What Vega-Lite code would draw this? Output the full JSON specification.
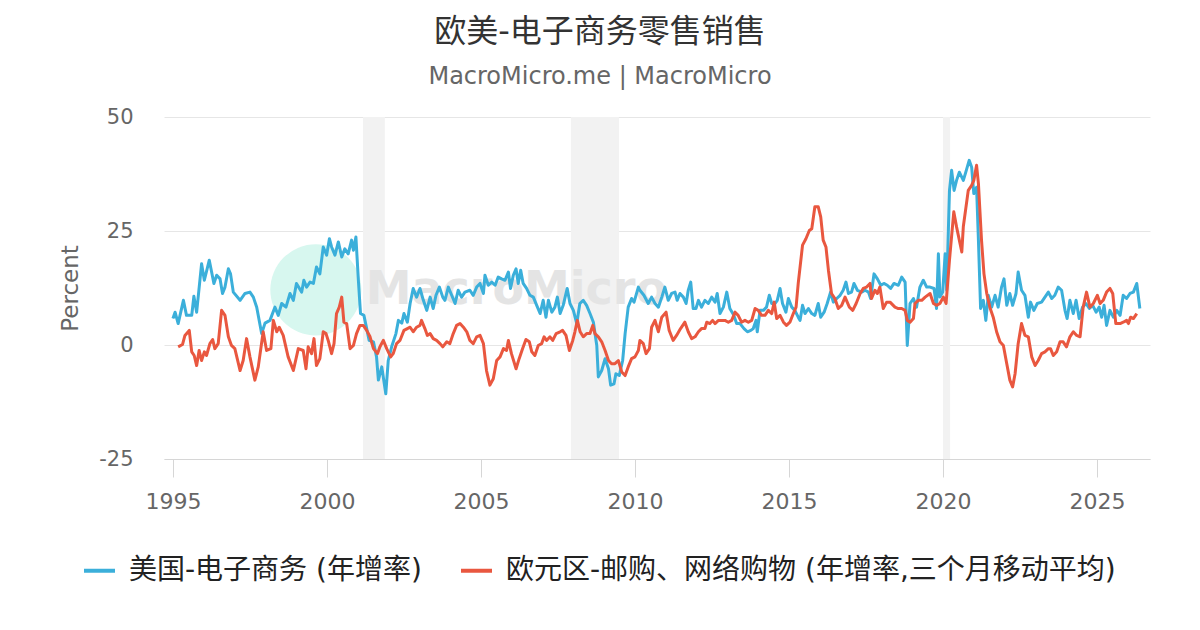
{
"$schema": "https://vega.github.io/schema/vega-lite/v6.json",
"width": 986, "height": 342,
"autosize": {"type": "none"},
"padding": {"left": 164, "top": 117, "right": 50, "bottom": 171},
"background": "white",
"config": {
 "font": "DejaVu Sans",
 "view": {"stroke": null},
 "axisX": {"labelFontSize": 22, "labelColor": "#666666", "labelFont": "DejaVu Sans", "domainColor": "#d6d6d6", "tickColor": "#d6d6d6", "tickSize": 18, "grid": false, "labelPadding": 14, "labelFlush": false},
 "axisY": {"labelFontSize": 21, "labelColor": "#666666", "labelFont": "DejaVu Sans", "grid": true, "gridColor": "#e6e6e6", "domain": false, "ticks": false, "tickSize": 0, "labelPadding": 31, "titleFontSize": 23, "titleColor": "#666666", "titleFontWeight": "normal", "titleFont": "DejaVu Sans", "titlePadding": 16},
 "legend": {"orient": "none", "legendX": -82, "legendY": 436, "direction": "horizontal", "symbolType": "stroke", "symbolStrokeWidth": 4, "symbolSize": 961, "labelFontSize": 28, "labelColor": "#222222", "labelFont": "DejaVu Sans, Noto Sans CJK SC", "columnPadding": 31, "labelOffset": 12, "padding": 0, "labelLimit": 1000}
},
"title": {"text": "欧美-电子商务零售销售", "subtitle": "MacroMicro.me | MacroMicro", "anchor": "middle", "frame": "group", "dx": -57, "offset": 16, "fontSize": 32, "font": "DejaVu Sans, Noto Sans CJK SC", "fontWeight": "normal", "color": "#333333", "subtitleFontSize": 24, "subtitleColor": "#666666", "subtitleFont": "DejaVu Sans", "subtitlePadding": 16},
"datasets": {
 "rec": [{"start": 2001.17, "end": 2001.88}, {"start": 2007.92, "end": 2009.48}, {"start": 2020.0, "end": 2020.23}],
 "wm": [{"date": 1999.64, "value": 12.1, "label": "MacroMicro", "tx": 2006.15}],
 "us": [{"date":1995.00,"value":5.8},{"date":1995.07,"value":7.2},{"date":1995.17,"value":4.7},{"date":1995.34,"value":9.8},{"date":1995.44,"value":6.5},{"date":1995.61,"value":6.5},{"date":1995.68,"value":10.7},{"date":1995.77,"value":7.2},{"date":1995.93,"value":17.8},{"date":1996.02,"value":14.2},{"date":1996.18,"value":18.6},{"date":1996.33,"value":13.5},{"date":1996.42,"value":15.3},{"date":1996.53,"value":14.5},{"date":1996.61,"value":11.3},{"date":1996.69,"value":12.7},{"date":1996.80,"value":16.7},{"date":1996.87,"value":15.6},{"date":1996.96,"value":11.6},{"date":1997.18,"value":9.8},{"date":1997.34,"value":11.3},{"date":1997.50,"value":11.6},{"date":1997.61,"value":10.5},{"date":1997.72,"value":8.3},{"date":1997.88,"value":2.5},{"date":1997.99,"value":4.8},{"date":1998.15,"value":5.4},{"date":1998.31,"value":8.3},{"date":1998.42,"value":6.5},{"date":1998.53,"value":9.1},{"date":1998.67,"value":8.3},{"date":1998.80,"value":11.3},{"date":1998.91,"value":9.8},{"date":1999.01,"value":13.5},{"date":1999.18,"value":11.6},{"date":1999.25,"value":14.2},{"date":1999.34,"value":12.7},{"date":1999.45,"value":13.8},{"date":1999.56,"value":13.5},{"date":1999.66,"value":17.1},{"date":1999.77,"value":15.6},{"date":1999.88,"value":21.5},{"date":1999.99,"value":19.7},{"date":2000.08,"value":23.3},{"date":2000.15,"value":21.5},{"date":2000.26,"value":19.7},{"date":2000.37,"value":22.6},{"date":2000.48,"value":19.3},{"date":2000.58,"value":21.1},{"date":2000.69,"value":20.0},{"date":2000.80,"value":23.0},{"date":2000.86,"value":20.8},{"date":2000.94,"value":23.7},{"date":2001.02,"value":14.2},{"date":2001.09,"value":6.9},{"date":2001.20,"value":6.5},{"date":2001.29,"value":3.6},{"date":2001.37,"value":1.0},{"date":2001.51,"value":0.7},{"date":2001.61,"value":-2.6},{"date":2001.67,"value":-7.7},{"date":2001.78,"value":-4.8},{"date":2001.91,"value":-10.7},{"date":2001.99,"value":-3.4},{"date":2002.10,"value":-0.4},{"date":2002.24,"value":2.5},{"date":2002.32,"value":5.4},{"date":2002.43,"value":4.8},{"date":2002.50,"value":6.9},{"date":2002.61,"value":5.0},{"date":2002.70,"value":9.1},{"date":2002.80,"value":12.4},{"date":2002.91,"value":10.5},{"date":2003.02,"value":12.4},{"date":2003.13,"value":9.8},{"date":2003.24,"value":7.6},{"date":2003.35,"value":10.5},{"date":2003.45,"value":8.0},{"date":2003.54,"value":10.9},{"date":2003.65,"value":12.7},{"date":2003.76,"value":10.5},{"date":2003.83,"value":9.8},{"date":2003.94,"value":12.7},{"date":2004.05,"value":10.9},{"date":2004.16,"value":9.1},{"date":2004.26,"value":12.0},{"date":2004.37,"value":10.5},{"date":2004.48,"value":11.6},{"date":2004.64,"value":12.0},{"date":2004.75,"value":10.9},{"date":2004.86,"value":12.7},{"date":2004.97,"value":13.5},{"date":2005.08,"value":11.3},{"date":2005.13,"value":15.3},{"date":2005.24,"value":13.1},{"date":2005.35,"value":13.8},{"date":2005.46,"value":13.1},{"date":2005.56,"value":14.9},{"date":2005.67,"value":14.5},{"date":2005.78,"value":14.2},{"date":2005.89,"value":16.0},{"date":2005.96,"value":12.4},{"date":2006.05,"value":15.3},{"date":2006.14,"value":16.7},{"date":2006.21,"value":13.5},{"date":2006.29,"value":16.4},{"date":2006.37,"value":13.5},{"date":2006.48,"value":12.4},{"date":2006.59,"value":10.9},{"date":2006.70,"value":10.5},{"date":2006.81,"value":8.7},{"date":2006.92,"value":6.9},{"date":2007.02,"value":9.8},{"date":2007.11,"value":6.1},{"date":2007.19,"value":9.8},{"date":2007.30,"value":7.2},{"date":2007.40,"value":8.3},{"date":2007.48,"value":10.5},{"date":2007.57,"value":6.9},{"date":2007.67,"value":8.7},{"date":2007.80,"value":12.4},{"date":2007.89,"value":9.1},{"date":2008.00,"value":7.6},{"date":2008.11,"value":4.7},{"date":2008.21,"value":9.1},{"date":2008.32,"value":9.8},{"date":2008.43,"value":8.7},{"date":2008.54,"value":6.9},{"date":2008.65,"value":5.0},{"date":2008.76,"value":-0.1},{"date":2008.81,"value":-7.0},{"date":2008.92,"value":-5.6},{"date":2009.03,"value":-3.0},{"date":2009.14,"value":-5.2},{"date":2009.21,"value":-8.8},{"date":2009.32,"value":-8.5},{"date":2009.38,"value":-6.3},{"date":2009.49,"value":-6.7},{"date":2009.60,"value":-3.4},{"date":2009.68,"value":2.5},{"date":2009.78,"value":8.3},{"date":2009.89,"value":10.2},{"date":2009.97,"value":9.4},{"date":2010.11,"value":12.7},{"date":2010.16,"value":12.0},{"date":2010.29,"value":10.9},{"date":2010.43,"value":9.1},{"date":2010.54,"value":10.5},{"date":2010.65,"value":9.1},{"date":2010.76,"value":8.3},{"date":2010.87,"value":10.5},{"date":2010.97,"value":12.7},{"date":2011.08,"value":9.8},{"date":2011.19,"value":11.3},{"date":2011.30,"value":11.6},{"date":2011.37,"value":9.8},{"date":2011.46,"value":11.3},{"date":2011.57,"value":10.5},{"date":2011.66,"value":9.1},{"date":2011.73,"value":12.0},{"date":2011.81,"value":13.8},{"date":2011.89,"value":8.0},{"date":2011.98,"value":8.0},{"date":2012.06,"value":9.8},{"date":2012.16,"value":8.3},{"date":2012.27,"value":9.8},{"date":2012.38,"value":9.1},{"date":2012.49,"value":10.5},{"date":2012.60,"value":9.4},{"date":2012.67,"value":11.3},{"date":2012.76,"value":6.9},{"date":2012.87,"value":8.3},{"date":2012.98,"value":11.6},{"date":2013.08,"value":8.0},{"date":2013.21,"value":6.5},{"date":2013.30,"value":4.7},{"date":2013.41,"value":4.7},{"date":2013.54,"value":3.6},{"date":2013.65,"value":2.9},{"date":2013.76,"value":3.2},{"date":2013.84,"value":3.6},{"date":2013.93,"value":5.4},{"date":2013.97,"value":2.9},{"date":2014.06,"value":7.6},{"date":2014.17,"value":7.6},{"date":2014.27,"value":8.3},{"date":2014.36,"value":10.9},{"date":2014.44,"value":9.1},{"date":2014.55,"value":9.1},{"date":2014.62,"value":9.8},{"date":2014.71,"value":12.4},{"date":2014.79,"value":9.1},{"date":2014.90,"value":7.2},{"date":2014.98,"value":10.2},{"date":2015.09,"value":8.3},{"date":2015.19,"value":7.6},{"date":2015.30,"value":6.1},{"date":2015.36,"value":5.4},{"date":2015.44,"value":8.7},{"date":2015.52,"value":6.9},{"date":2015.63,"value":8.0},{"date":2015.74,"value":6.9},{"date":2015.84,"value":6.5},{"date":2015.95,"value":9.1},{"date":2016.03,"value":6.1},{"date":2016.14,"value":7.2},{"date":2016.24,"value":9.1},{"date":2016.35,"value":11.6},{"date":2016.44,"value":9.4},{"date":2016.55,"value":10.2},{"date":2016.66,"value":10.9},{"date":2016.76,"value":12.0},{"date":2016.85,"value":13.8},{"date":2016.93,"value":11.3},{"date":2017.03,"value":11.6},{"date":2017.11,"value":13.5},{"date":2017.22,"value":12.0},{"date":2017.36,"value":11.6},{"date":2017.47,"value":12.0},{"date":2017.58,"value":11.6},{"date":2017.65,"value":10.2},{"date":2017.76,"value":15.6},{"date":2017.87,"value":14.5},{"date":2017.98,"value":13.1},{"date":2018.08,"value":13.5},{"date":2018.19,"value":13.1},{"date":2018.30,"value":12.4},{"date":2018.41,"value":13.5},{"date":2018.55,"value":13.1},{"date":2018.66,"value":14.9},{"date":2018.77,"value":13.8},{"date":2018.84,"value":-0.1},{"date":2018.93,"value":9.1},{"date":2019.04,"value":10.2},{"date":2019.14,"value":8.3},{"date":2019.25,"value":12.7},{"date":2019.36,"value":14.2},{"date":2019.47,"value":12.7},{"date":2019.58,"value":12.7},{"date":2019.71,"value":12.4},{"date":2019.79,"value":8.0},{"date":2019.85,"value":20.0},{"date":2019.90,"value":10.5},{"date":2019.99,"value":11.6},{"date":2020.07,"value":20.0},{"date":2020.12,"value":12.0},{"date":2020.21,"value":33.9},{"date":2020.28,"value":38.3},{"date":2020.36,"value":33.9},{"date":2020.44,"value":36.1},{"date":2020.53,"value":37.9},{"date":2020.66,"value":36.1},{"date":2020.74,"value":37.9},{"date":2020.85,"value":40.5},{"date":2020.93,"value":39.0},{"date":2021.00,"value":33.2},{"date":2021.09,"value":34.6},{"date":2021.15,"value":23.0},{"date":2021.22,"value":8.0},{"date":2021.31,"value":9.8},{"date":2021.39,"value":5.4},{"date":2021.47,"value":10.9},{"date":2021.58,"value":8.3},{"date":2021.69,"value":10.9},{"date":2021.79,"value":8.3},{"date":2021.90,"value":12.7},{"date":2021.98,"value":14.5},{"date":2022.07,"value":8.7},{"date":2022.17,"value":11.3},{"date":2022.26,"value":8.7},{"date":2022.37,"value":11.3},{"date":2022.44,"value":16.0},{"date":2022.55,"value":12.0},{"date":2022.66,"value":10.9},{"date":2022.77,"value":6.1},{"date":2022.84,"value":9.4},{"date":2022.95,"value":7.6},{"date":2023.06,"value":9.1},{"date":2023.20,"value":9.4},{"date":2023.31,"value":10.5},{"date":2023.42,"value":11.6},{"date":2023.53,"value":10.2},{"date":2023.63,"value":10.9},{"date":2023.74,"value":12.7},{"date":2023.85,"value":12.0},{"date":2023.96,"value":7.6},{"date":2024.03,"value":5.8},{"date":2024.12,"value":9.8},{"date":2024.23,"value":6.9},{"date":2024.32,"value":9.8},{"date":2024.42,"value":5.8},{"date":2024.53,"value":8.3},{"date":2024.64,"value":9.1},{"date":2024.75,"value":8.0},{"date":2024.86,"value":8.7},{"date":2024.97,"value":7.2},{"date":2025.07,"value":8.3},{"date":2025.15,"value":6.1},{"date":2025.23,"value":8.7},{"date":2025.31,"value":4.3},{"date":2025.42,"value":7.6},{"date":2025.53,"value":6.1},{"date":2025.64,"value":7.6},{"date":2025.75,"value":6.5},{"date":2025.85,"value":10.9},{"date":2025.96,"value":10.2},{"date":2026.07,"value":11.3},{"date":2026.18,"value":11.6},{"date":2026.29,"value":13.5},{"date":2026.39,"value":8.0}],
 "eu": [{"date":1995.17,"value":-0.4},{"date":1995.31,"value":0.1},{"date":1995.39,"value":2.1},{"date":1995.53,"value":3.2},{"date":1995.61,"value":-1.5},{"date":1995.69,"value":-2.3},{"date":1995.77,"value":-4.5},{"date":1995.85,"value":-1.2},{"date":1995.93,"value":-3.4},{"date":1996.02,"value":-1.5},{"date":1996.09,"value":-2.3},{"date":1996.20,"value":0.3},{"date":1996.29,"value":1.2},{"date":1996.36,"value":-0.8},{"date":1996.47,"value":0.3},{"date":1996.58,"value":7.6},{"date":1996.69,"value":6.5},{"date":1996.80,"value":1.8},{"date":1996.90,"value":-0.1},{"date":1997.01,"value":-0.8},{"date":1997.18,"value":-5.6},{"date":1997.28,"value":-3.4},{"date":1997.39,"value":1.4},{"date":1997.50,"value":-2.6},{"date":1997.66,"value":-7.7},{"date":1997.77,"value":-4.8},{"date":1997.93,"value":2.9},{"date":1998.04,"value":-1.2},{"date":1998.18,"value":-0.8},{"date":1998.26,"value":5.4},{"date":1998.37,"value":2.9},{"date":1998.45,"value":3.9},{"date":1998.58,"value":2.1},{"date":1998.74,"value":-2.6},{"date":1998.91,"value":-5.6},{"date":1999.07,"value":-0.8},{"date":1999.23,"value":-1.2},{"date":1999.32,"value":-5.2},{"date":1999.39,"value":-0.4},{"date":1999.50,"value":-1.9},{"date":1999.58,"value":1.4},{"date":1999.66,"value":-4.5},{"date":1999.77,"value":-3.0},{"date":1999.88,"value":2.9},{"date":1999.97,"value":2.5},{"date":2000.04,"value":1.0},{"date":2000.15,"value":-1.9},{"date":2000.23,"value":0.3},{"date":2000.31,"value":6.9},{"date":2000.40,"value":8.3},{"date":2000.48,"value":10.5},{"date":2000.55,"value":5.0},{"date":2000.64,"value":4.7},{"date":2000.75,"value":-0.8},{"date":2000.86,"value":-0.1},{"date":2000.96,"value":2.5},{"date":2001.07,"value":4.3},{"date":2001.18,"value":4.3},{"date":2001.29,"value":3.2},{"date":2001.40,"value":1.8},{"date":2001.51,"value":-0.8},{"date":2001.64,"value":-1.9},{"date":2001.72,"value":-0.4},{"date":2001.83,"value":1.0},{"date":2001.94,"value":-0.8},{"date":2002.07,"value":-2.6},{"date":2002.15,"value":-1.9},{"date":2002.26,"value":0.3},{"date":2002.37,"value":1.0},{"date":2002.50,"value":3.2},{"date":2002.61,"value":3.6},{"date":2002.70,"value":3.9},{"date":2002.80,"value":2.9},{"date":2002.91,"value":3.9},{"date":2003.02,"value":4.3},{"date":2003.07,"value":5.4},{"date":2003.18,"value":3.6},{"date":2003.26,"value":2.1},{"date":2003.35,"value":2.5},{"date":2003.45,"value":1.4},{"date":2003.56,"value":1.0},{"date":2003.67,"value":0.3},{"date":2003.76,"value":-0.4},{"date":2003.89,"value":0.7},{"date":2003.99,"value":0.3},{"date":2004.10,"value":2.5},{"date":2004.21,"value":4.3},{"date":2004.32,"value":4.7},{"date":2004.43,"value":3.9},{"date":2004.54,"value":2.9},{"date":2004.64,"value":1.0},{"date":2004.75,"value":0.3},{"date":2004.86,"value":1.8},{"date":2004.97,"value":2.1},{"date":2005.08,"value":0.3},{"date":2005.18,"value":-5.6},{"date":2005.29,"value":-8.8},{"date":2005.40,"value":-7.4},{"date":2005.51,"value":-3.4},{"date":2005.62,"value":-2.6},{"date":2005.73,"value":-0.8},{"date":2005.83,"value":-1.2},{"date":2005.89,"value":1.0},{"date":2005.99,"value":-1.9},{"date":2006.14,"value":-5.2},{"date":2006.24,"value":-3.0},{"date":2006.35,"value":-0.8},{"date":2006.46,"value":1.2},{"date":2006.57,"value":0.7},{"date":2006.65,"value":-1.5},{"date":2006.75,"value":-2.3},{"date":2006.86,"value":-0.1},{"date":2006.97,"value":0.3},{"date":2007.05,"value":1.8},{"date":2007.13,"value":1.0},{"date":2007.24,"value":1.8},{"date":2007.33,"value":1.0},{"date":2007.44,"value":2.5},{"date":2007.57,"value":2.9},{"date":2007.65,"value":3.2},{"date":2007.76,"value":2.1},{"date":2007.87,"value":-1.2},{"date":2007.98,"value":1.0},{"date":2008.05,"value":2.9},{"date":2008.13,"value":5.4},{"date":2008.22,"value":2.9},{"date":2008.32,"value":1.8},{"date":2008.43,"value":2.5},{"date":2008.54,"value":2.5},{"date":2008.63,"value":4.3},{"date":2008.70,"value":2.5},{"date":2008.81,"value":1.8},{"date":2008.92,"value":0.7},{"date":2009.03,"value":-1.2},{"date":2009.14,"value":-3.4},{"date":2009.24,"value":-4.1},{"date":2009.35,"value":-4.1},{"date":2009.46,"value":-3.4},{"date":2009.57,"value":-5.9},{"date":2009.68,"value":-6.7},{"date":2009.78,"value":-4.8},{"date":2009.89,"value":-3.0},{"date":2010.00,"value":-2.6},{"date":2010.11,"value":-1.2},{"date":2010.16,"value":1.0},{"date":2010.27,"value":0.3},{"date":2010.36,"value":-1.9},{"date":2010.47,"value":-0.8},{"date":2010.54,"value":3.9},{"date":2010.65,"value":5.4},{"date":2010.76,"value":2.9},{"date":2010.87,"value":6.1},{"date":2011.01,"value":7.2},{"date":2011.11,"value":3.2},{"date":2011.24,"value":1.0},{"date":2011.35,"value":2.1},{"date":2011.48,"value":3.6},{"date":2011.62,"value":5.0},{"date":2011.73,"value":2.9},{"date":2011.84,"value":1.4},{"date":2011.95,"value":1.8},{"date":2012.06,"value":2.9},{"date":2012.16,"value":3.6},{"date":2012.27,"value":3.6},{"date":2012.33,"value":5.0},{"date":2012.43,"value":4.7},{"date":2012.52,"value":5.4},{"date":2012.60,"value":4.7},{"date":2012.71,"value":5.4},{"date":2012.81,"value":5.4},{"date":2012.92,"value":5.4},{"date":2013.03,"value":5.0},{"date":2013.14,"value":5.4},{"date":2013.25,"value":7.2},{"date":2013.35,"value":6.5},{"date":2013.46,"value":5.0},{"date":2013.57,"value":5.4},{"date":2013.68,"value":5.0},{"date":2013.79,"value":5.4},{"date":2013.90,"value":8.0},{"date":2014.00,"value":7.6},{"date":2014.11,"value":6.5},{"date":2014.22,"value":6.5},{"date":2014.33,"value":7.6},{"date":2014.44,"value":6.9},{"date":2014.52,"value":9.4},{"date":2014.60,"value":5.8},{"date":2014.71,"value":6.5},{"date":2014.82,"value":5.0},{"date":2014.92,"value":4.3},{"date":2015.03,"value":5.0},{"date":2015.14,"value":6.9},{"date":2015.23,"value":8.3},{"date":2015.30,"value":13.5},{"date":2015.44,"value":21.9},{"date":2015.55,"value":23.3},{"date":2015.66,"value":25.1},{"date":2015.74,"value":25.5},{"date":2015.84,"value":30.3},{"date":2015.95,"value":30.3},{"date":2016.03,"value":28.1},{"date":2016.11,"value":23.0},{"date":2016.20,"value":21.5},{"date":2016.28,"value":16.4},{"date":2016.38,"value":11.3},{"date":2016.49,"value":10.2},{"date":2016.60,"value":8.0},{"date":2016.71,"value":8.7},{"date":2016.82,"value":10.5},{"date":2016.96,"value":8.3},{"date":2017.07,"value":7.6},{"date":2017.18,"value":9.1},{"date":2017.31,"value":11.3},{"date":2017.41,"value":12.4},{"date":2017.52,"value":12.7},{"date":2017.63,"value":13.5},{"date":2017.68,"value":10.2},{"date":2017.79,"value":12.0},{"date":2017.87,"value":11.3},{"date":2017.95,"value":12.7},{"date":2018.06,"value":8.0},{"date":2018.17,"value":9.4},{"date":2018.28,"value":9.4},{"date":2018.44,"value":8.3},{"date":2018.55,"value":8.0},{"date":2018.66,"value":8.0},{"date":2018.77,"value":7.6},{"date":2018.84,"value":5.4},{"date":2018.93,"value":5.0},{"date":2019.04,"value":5.8},{"date":2019.09,"value":9.1},{"date":2019.20,"value":9.8},{"date":2019.31,"value":9.8},{"date":2019.42,"value":10.5},{"date":2019.58,"value":11.3},{"date":2019.69,"value":9.1},{"date":2019.79,"value":8.7},{"date":2019.90,"value":9.1},{"date":2020.01,"value":10.5},{"date":2020.10,"value":9.1},{"date":2020.21,"value":18.6},{"date":2020.35,"value":29.2},{"date":2020.44,"value":25.9},{"date":2020.61,"value":20.4},{"date":2020.66,"value":26.0},{"date":2020.82,"value":33.9},{"date":2020.93,"value":35.0},{"date":2021.00,"value":36.1},{"date":2021.09,"value":39.4},{"date":2021.15,"value":35.4},{"date":2021.25,"value":23.0},{"date":2021.33,"value":15.6},{"date":2021.42,"value":11.3},{"date":2021.52,"value":8.3},{"date":2021.63,"value":6.1},{"date":2021.74,"value":2.9},{"date":2021.85,"value":0.7},{"date":2021.96,"value":-0.1},{"date":2022.07,"value":-4.1},{"date":2022.17,"value":-7.7},{"date":2022.26,"value":-9.2},{"date":2022.34,"value":-6.3},{"date":2022.44,"value":0.3},{"date":2022.55,"value":4.7},{"date":2022.66,"value":2.1},{"date":2022.77,"value":1.8},{"date":2022.88,"value":-2.6},{"date":2022.99,"value":-4.5},{"date":2023.09,"value":-3.4},{"date":2023.20,"value":-1.9},{"date":2023.31,"value":-1.5},{"date":2023.42,"value":-0.8},{"date":2023.49,"value":-0.8},{"date":2023.58,"value":-2.3},{"date":2023.69,"value":-1.5},{"date":2023.80,"value":0.7},{"date":2023.90,"value":0.7},{"date":2024.01,"value":-0.4},{"date":2024.12,"value":1.8},{"date":2024.23,"value":2.9},{"date":2024.34,"value":2.1},{"date":2024.45,"value":1.8},{"date":2024.55,"value":8.3},{"date":2024.66,"value":11.6},{"date":2024.77,"value":8.3},{"date":2024.88,"value":9.1},{"date":2025.01,"value":10.9},{"date":2025.10,"value":9.1},{"date":2025.20,"value":9.8},{"date":2025.31,"value":11.6},{"date":2025.42,"value":12.4},{"date":2025.51,"value":11.3},{"date":2025.61,"value":4.7},{"date":2025.75,"value":4.7},{"date":2025.85,"value":5.0},{"date":2025.96,"value":5.4},{"date":2026.02,"value":4.7},{"date":2026.09,"value":6.1},{"date":2026.18,"value":5.8},{"date":2026.29,"value":6.9}]
},
"layer": [
 {"data": {"name": "rec"}, "mark": {"type": "rect", "color": "#f2f2f2"},
  "encoding": {
   "x": {"field": "start", "type": "quantitative", "scale": {"domain": [1994.71, 2026.72], "nice": false, "zero": false}, "axis": {"values": [1995, 2000, 2005, 2010, 2015, 2020, 2025], "format": "d"}, "title": null},
   "x2": {"field": "end"}}},
 {"data": {"name": "wm"}, "mark": {"type": "point", "shape": "circle", "filled": true, "color": "#d7f7ef", "opacity": 1, "size": 8300},
  "encoding": {
   "x": {"field": "date", "type": "quantitative", "title": null},
   "y": {"field": "value", "type": "quantitative", "scale": {"domain": [-25, 50], "nice": false, "zero": false}, "axis": {"values": [-25, 0, 25, 50], "labelExpr": "'' + datum.value"}, "title": "Percent"}}},
 {"data": {"name": "wm"}, "mark": {"type": "text", "text": "MacroMicro", "font": "DejaVu Sans", "fontWeight": "bold", "fontSize": 46, "color": "#e4e4e4", "baseline": "middle", "align": "center"},
  "encoding": {
   "x": {"field": "tx", "type": "quantitative", "title": null},
   "y": {"field": "value", "type": "quantitative", "title": "Percent"}}},
 {"data": {"name": "us"}, "mark": {"type": "line", "strokeWidth": 3, "strokeJoin": "round"},
  "encoding": {
   "x": {"field": "date", "type": "quantitative", "title": null},
   "y": {"field": "value", "type": "quantitative", "title": "Percent"},
   "color": {"datum": "美国-电子商务 (年增率)", "type": "nominal", "scale": {"domain": ["美国-电子商务 (年增率)", "欧元区-邮购、网络购物 (年增率,三个月移动平均)"], "range": ["#3BAFDA", "#E9573F"]}, "legend": {"title": null}}}},
 {"data": {"name": "eu"}, "mark": {"type": "line", "strokeWidth": 3, "strokeJoin": "round"},
  "encoding": {
   "x": {"field": "date", "type": "quantitative", "title": null},
   "y": {"field": "value", "type": "quantitative", "title": "Percent"},
   "color": {"datum": "欧元区-邮购、网络购物 (年增率,三个月移动平均)", "type": "nominal"}}}
]
}
